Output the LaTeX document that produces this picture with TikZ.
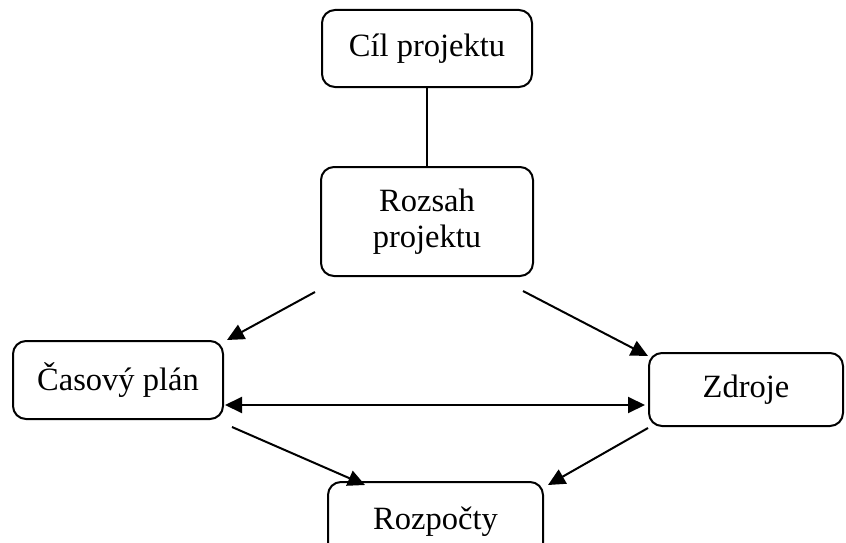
\documentclass[tikz,border=0pt]{standalone}
\usepackage{fontspec}
\setmainfont{Liberation Serif}
\usetikzlibrary{arrows.meta}
\begin{document}
\begin{tikzpicture}[x=1pt,y=-1pt,
  box/.style={draw,line width=2pt,rounded corners=13pt,align=center,
    font=\fontsize{32.5}{36}\selectfont,inner sep=0pt},
  conn/.style={line width=2pt},
  tip/.style={Triangle[length=17pt,width=16pt]},
  arr/.style={line width=2pt,-{Triangle[length=17pt,width=16pt]}},
  darr/.style={line width=2pt,{Triangle[length=17pt,width=16pt]}-{Triangle[length=17pt,width=16pt]}}]
\useasboundingbox (0,0) rectangle (846,543);
\clip (0,0) rectangle (846,543);
\node[box,minimum width=210pt,minimum height=77pt] (cil) at (427,48.5) {Cíl projektu};
\node[box,minimum width=212pt,minimum height=109pt] (roz) at (427,221.5) {Rozsah\\projektu};
\node[box,minimum width=210pt,minimum height=78pt] (cas) at (118,380) {Časový plán};
\node[box,minimum width=194pt,minimum height=73pt] (zdr) at (746,389.5) {Zdroje};
\node[box,minimum width=215pt,minimum height=80pt] (rzp) at (435.5,522) {Rozpočty};
\coordinate (a1s) at (315,292);
\coordinate (a1e) at (227,340);
\coordinate (a2s) at (523,291);
\coordinate (a2e) at (648,356);
\coordinate (ds) at (225,405);
\coordinate (de) at (645,405);
\coordinate (a4s) at (232,427);
\coordinate (a4e) at (365,485);
\coordinate (a5s) at (648,428);
\coordinate (a5e) at (548,485);
\draw[conn] (cil.south) -- (roz.north);
\draw[arr] (a1s) -- (a1e);
\draw[arr] (a2s) -- (a2e);
\draw[darr] (ds) -- (de);
\draw[arr] (a4s) -- (a4e);
\draw[arr] (a5s) -- (a5e);
\end{tikzpicture}
\end{document}
